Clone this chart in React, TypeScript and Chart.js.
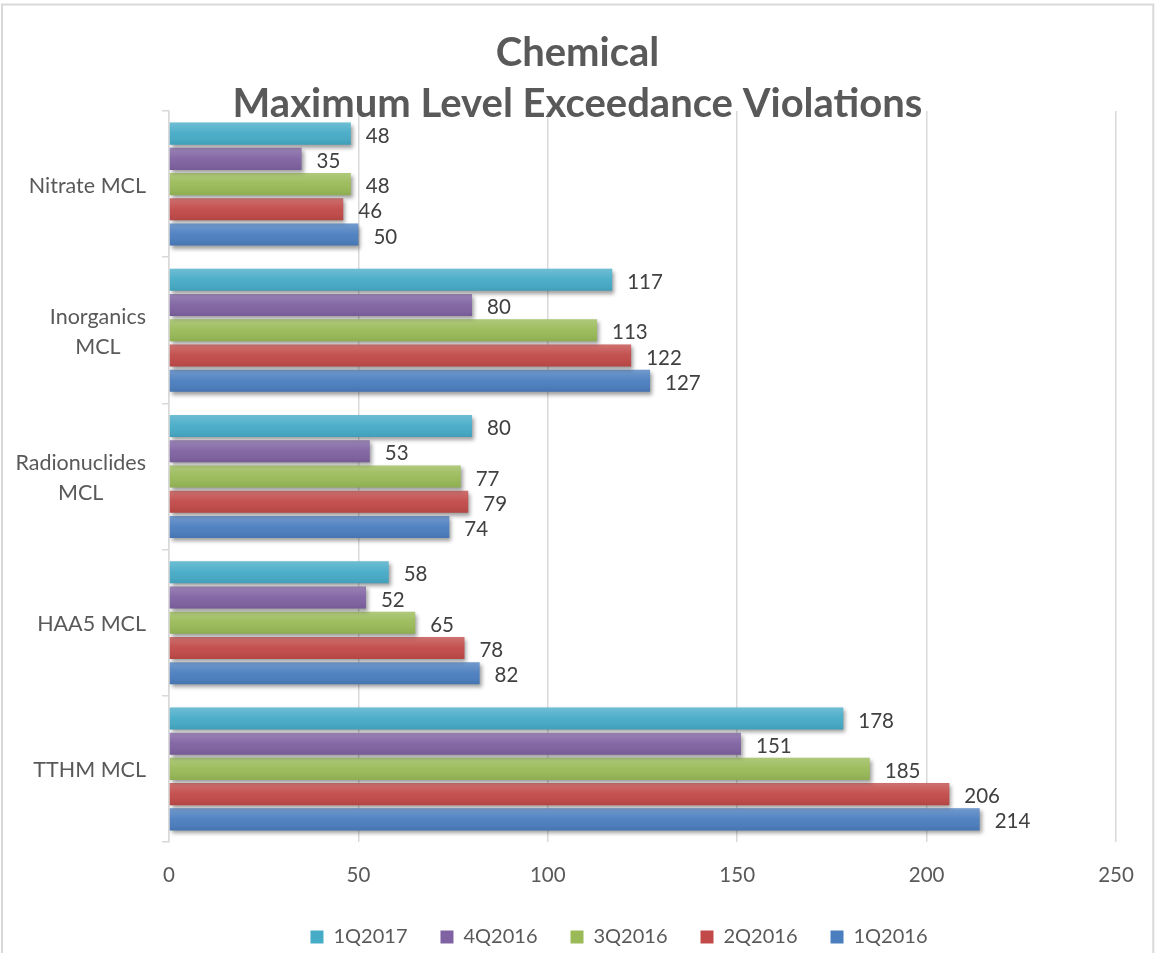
import React, { useEffect, useRef } from 'react';
import { Chart, registerables } from 'chart.js';

Chart.register(...registerables);

// ---- data ----
const categories: string[][] = [
  ['Nitrate MCL'],
  ['Inorganics', 'MCL'],
  ['Radionuclides', 'MCL'],
  ['HAA5 MCL'],
  ['TTHM MCL'],
];
const seriesNames = ['1Q2017', '4Q2016', '3Q2016', '2Q2016', '1Q2016'];
const values1Q2017 = [48, 117, 80, 58, 178];
const values4Q2016 = [35, 80, 53, 52, 151];
const values3Q2016 = [48, 113, 77, 65, 185];
const values2Q2016 = [46, 122, 79, 78, 206];
const values1Q2016 = [50, 127, 74, 82, 214];
const xTicks = [0, 50, 100, 150, 200, 250];
const titleLines = ['Chemical', 'Maximum Level Exceedance Violations'];

const seriesValues = [values1Q2017, values4Q2016, values3Q2016, values2Q2016, values1Q2016];
const seriesColors = ['#46abc7', '#7f62a2', '#99ba57', '#c14a48', '#4b7ebf'];

const FONT = 'Lato, "Open Sans", sans-serif';
const TEXT = '#595959';
const GRID = '#d9d9d9';

const framePlugin = {
  id: 'frame',
  beforeDraw(chart: any) {
    const ctx = chart.ctx;
    ctx.save();
    ctx.fillStyle = '#ffffff';
    ctx.fillRect(0, 0, chart.width, chart.height);
    ctx.strokeStyle = GRID;
    ctx.lineWidth = 2;
    ctx.beginPath();
    ctx.moveTo(2, chart.height);
    ctx.lineTo(2, 4.5);
    ctx.lineTo(1153.3, 4.5);
    ctx.lineTo(1153.3, chart.height);
    ctx.stroke();
    ctx.restore();
  },
};

const shadowPlugin = {
  id: 'barShadow',
  beforeDatasetDraw(chart: any) {
    const ctx = chart.ctx;
    ctx.save();
    ctx.shadowColor = 'rgba(0,0,0,0.38)';
    ctx.shadowBlur = 4;
    ctx.shadowOffsetX = 2;
    ctx.shadowOffsetY = 3;
  },
  afterDatasetDraw(chart: any) {
    chart.ctx.restore();
  },
};

const glossAndLabelsPlugin = {
  id: 'glossLabels',
  afterDatasetsDraw(chart: any) {
    const ctx = chart.ctx;
    ctx.save();
    chart.data.datasets.forEach((ds: any, di: number) => {
      const meta = chart.getDatasetMeta(di);
      if (meta.hidden) return;
      meta.data.forEach((el: any) => {
        const { x, y, base, height } = el.getProps(['x', 'y', 'base', 'height'], true);
        const top = y - height / 2;
        const g = ctx.createLinearGradient(0, top, 0, top + height);
        g.addColorStop(0, 'rgba(255,255,255,0.22)');
        g.addColorStop(0.5, 'rgba(255,255,255,0.04)');
        g.addColorStop(1, 'rgba(0,0,0,0.08)');
        ctx.fillStyle = g;
        ctx.fillRect(Math.min(base, x), top, Math.abs(x - base), height);
      });
    });
    ctx.font = `20.5px ${FONT}`;
    ctx.fillStyle = '#404040';
    ctx.textAlign = 'left';
    ctx.textBaseline = 'middle';
    chart.data.datasets.forEach((ds: any, di: number) => {
      const meta = chart.getDatasetMeta(di);
      if (meta.hidden) return;
      meta.data.forEach((el: any, i: number) => {
        const { x, y } = el.getProps(['x', 'y'], true);
        ctx.fillText(String(ds.data[i]), x + 15, y + 2.5);
      });
    });
    ctx.restore();
  },
};

const textPlugin = {
  id: 'texts',
  afterDraw(chart: any) {
    const ctx = chart.ctx;
    const yScale = chart.scales.y;
    ctx.save();
    // category labels
    ctx.font = `21.5px ${FONT}`;
    ctx.fillStyle = TEXT;
    ctx.textAlign = 'center';
    ctx.textBaseline = 'middle';
    const rightEdge = chart.chartArea.left - 23;
    const lineH = 30;
    categories.forEach((lines, i) => {
      const cy = yScale.getPixelForTick(i) + 1.5;
      const maxW = Math.max(...lines.map((l) => ctx.measureText(l).width));
      const cx = rightEdge - maxW / 2;
      lines.forEach((l, li) => {
        const ly = cy + (li - (lines.length - 1) / 2) * lineH;
        ctx.fillText(l, cx, ly);
      });
    });
    // title
    ctx.font = `bold 40px ${FONT}`;
    ctx.fillStyle = TEXT;
    ctx.textAlign = 'center';
    ctx.textBaseline = 'alphabetic';
    ctx.fillText(titleLines[0], 577.5, 66);
    ctx.fillText(titleLines[1], 577.5, 117);
    ctx.restore();
  },
};

export default function App() {
  const canvasRef = useRef<HTMLCanvasElement | null>(null);

  useEffect(() => {
    if (!canvasRef.current) return;
    const chart = new Chart(canvasRef.current, {
      type: 'bar',
      data: {
        labels: categories.map((c) => c.join(' ')),
        datasets: seriesNames.map((name, i) => ({
          label: name,
          data: seriesValues[i],
          backgroundColor: seriesColors[i],
          borderWidth: 0,
          categoryPercentage: 0.863,
          barPercentage: 0.875,
        })),
      },
      options: {
        indexAxis: 'y',
        responsive: false,
        animation: false,
        layout: { padding: { top: 111, right: 39, left: 122, bottom: -4 } },
        scales: {
          x: {
            min: xTicks[0],
            max: xTicks[xTicks.length - 1],
            ticks: {
              stepSize: xTicks[1] - xTicks[0],
              color: TEXT,
              font: { family: FONT, size: 20.5 },
              padding: 21,
            },
            grid: { color: GRID, lineWidth: 1.5, drawTicks: false },
            border: { display: false },
            afterFit: (scale: any) => {
              scale.height = 52;
            },
          },
          y: {
            ticks: { display: false },
            grid: {
              drawOnChartArea: false,
              drawTicks: true,
              tickLength: 7,
              color: GRID,
              lineWidth: 1.5,
              offset: true,
            },
            border: { display: true, color: GRID, width: 1.5 },
            afterFit: (scale: any) => {
              scale.width = 47;
            },
          },
        },
        plugins: {
          title: { display: false },
          tooltip: { enabled: false },
          legend: {
            position: 'bottom',
            labels: {
              color: TEXT,
              font: { family: FONT, size: 20 },
              boxWidth: 13,
              boxHeight: 13,
              padding: 33,
            },
          },
        },
      },
      plugins: [framePlugin, shadowPlugin, glossAndLabelsPlugin, textPlugin],
    } as any);
    return () => chart.destroy();
  }, []);

  return (
    <div style={{ position: 'absolute', left: 0, top: 0, width: 1155, height: 953, overflow: 'hidden' }}>
      <canvas ref={canvasRef} width={1155} height={953} style={{ width: 1155, height: 953, display: 'block' }} />
    </div>
  );
}
